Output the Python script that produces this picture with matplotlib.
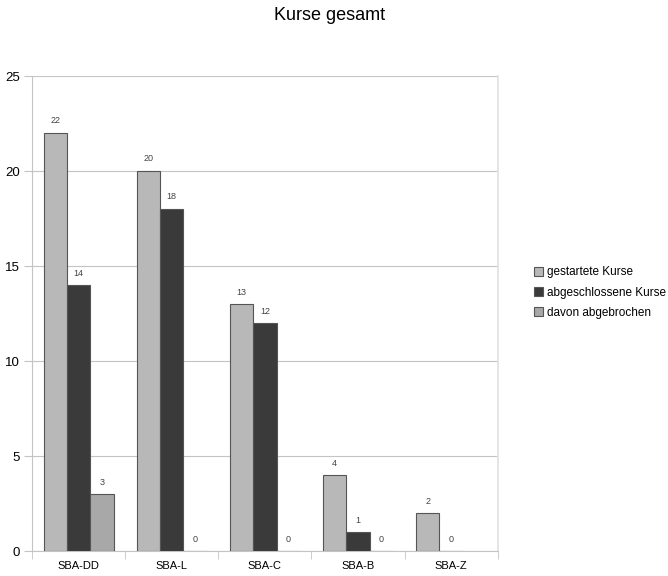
import numpy as np
import matplotlib.pyplot as plt

plt.rcParams['font.family'] = ['Liberation Sans', 'DejaVu Sans']

# Daten
kategorien = ["SBA-DD", "SBA-L", "SBA-C", "SBA-B", "SBA-Z"]
gestartet = [22, 20, 13, 4, 2]
abgeschlossen = [14, 18, 12, 1, 0]
abgebrochen = [3, 0, 0, 0, np.nan]
serien = ["gestartete Kurse", "abgeschlossene Kurse", "davon abgebrochen"]

farben = ["#b8b8b8", "#3a3a3a", "#a8a8a8"]

fig = plt.figure(figsize=(6.68, 5.76), dpi=100)
ax = fig.add_axes([0.048, 0.043, 0.697, 0.825])

x = np.arange(len(kategorien))
breite = 0.25
werte = [gestartet, abgeschlossen, abgebrochen]

for i, (vals, farbe, name) in enumerate(zip(werte, farben, serien)):
    pos = x + (i - 1) * breite
    ax.bar(pos, vals, width=breite, color=farbe, edgecolor="#555555",
           linewidth=0.8, label=name, zorder=3)
    for p, v in zip(pos, vals):
        if np.isnan(v):
            continue
        ax.text(p, v + 0.4, f"{int(v)}", ha="center", va="bottom",
                fontsize=6.5, color="#444444", zorder=4)

ax.set_xlim(-0.5, len(kategorien) - 0.5)
ax.set_ylim(0, 25)
ax.set_yticks(range(0, 26, 5))
ax.yaxis.grid(True, color="#c4c4c4", linewidth=0.8, zorder=0)
ax.tick_params(axis="y", length=6, color="#c4c4c4", labelsize=9.5, pad=3)

ax.set_xticks(x)
ax.set_xticklabels(kategorien, fontsize=8)
ax.tick_params(axis="x", length=0, pad=7)
# Trennstriche zwischen den Gruppen
ax.set_xticks(np.arange(-0.5, len(kategorien)), minor=True)
ax.tick_params(axis="x", which="minor", length=6, color="#c4c4c4")

ax.spines["top"].set_visible(False)
for side in ["left", "bottom"]:
    ax.spines[side].set_color("#c4c4c4")
    ax.spines[side].set_linewidth(0.8)
ax.spines["right"].set_color("#e0e0e0")
ax.spines["right"].set_linewidth(1.2)

fig.text(0.494, 0.988, "Kurse gesamt", ha="center", va="top", fontsize=13)

fig.legend(loc="center left", bbox_to_anchor=(0.784, 0.492), frameon=False,
           fontsize=8.5, handlelength=0.75, handleheight=0.75, handletextpad=0.3,
           labelspacing=0.7)

plt.savefig("out.png", dpi=100)
